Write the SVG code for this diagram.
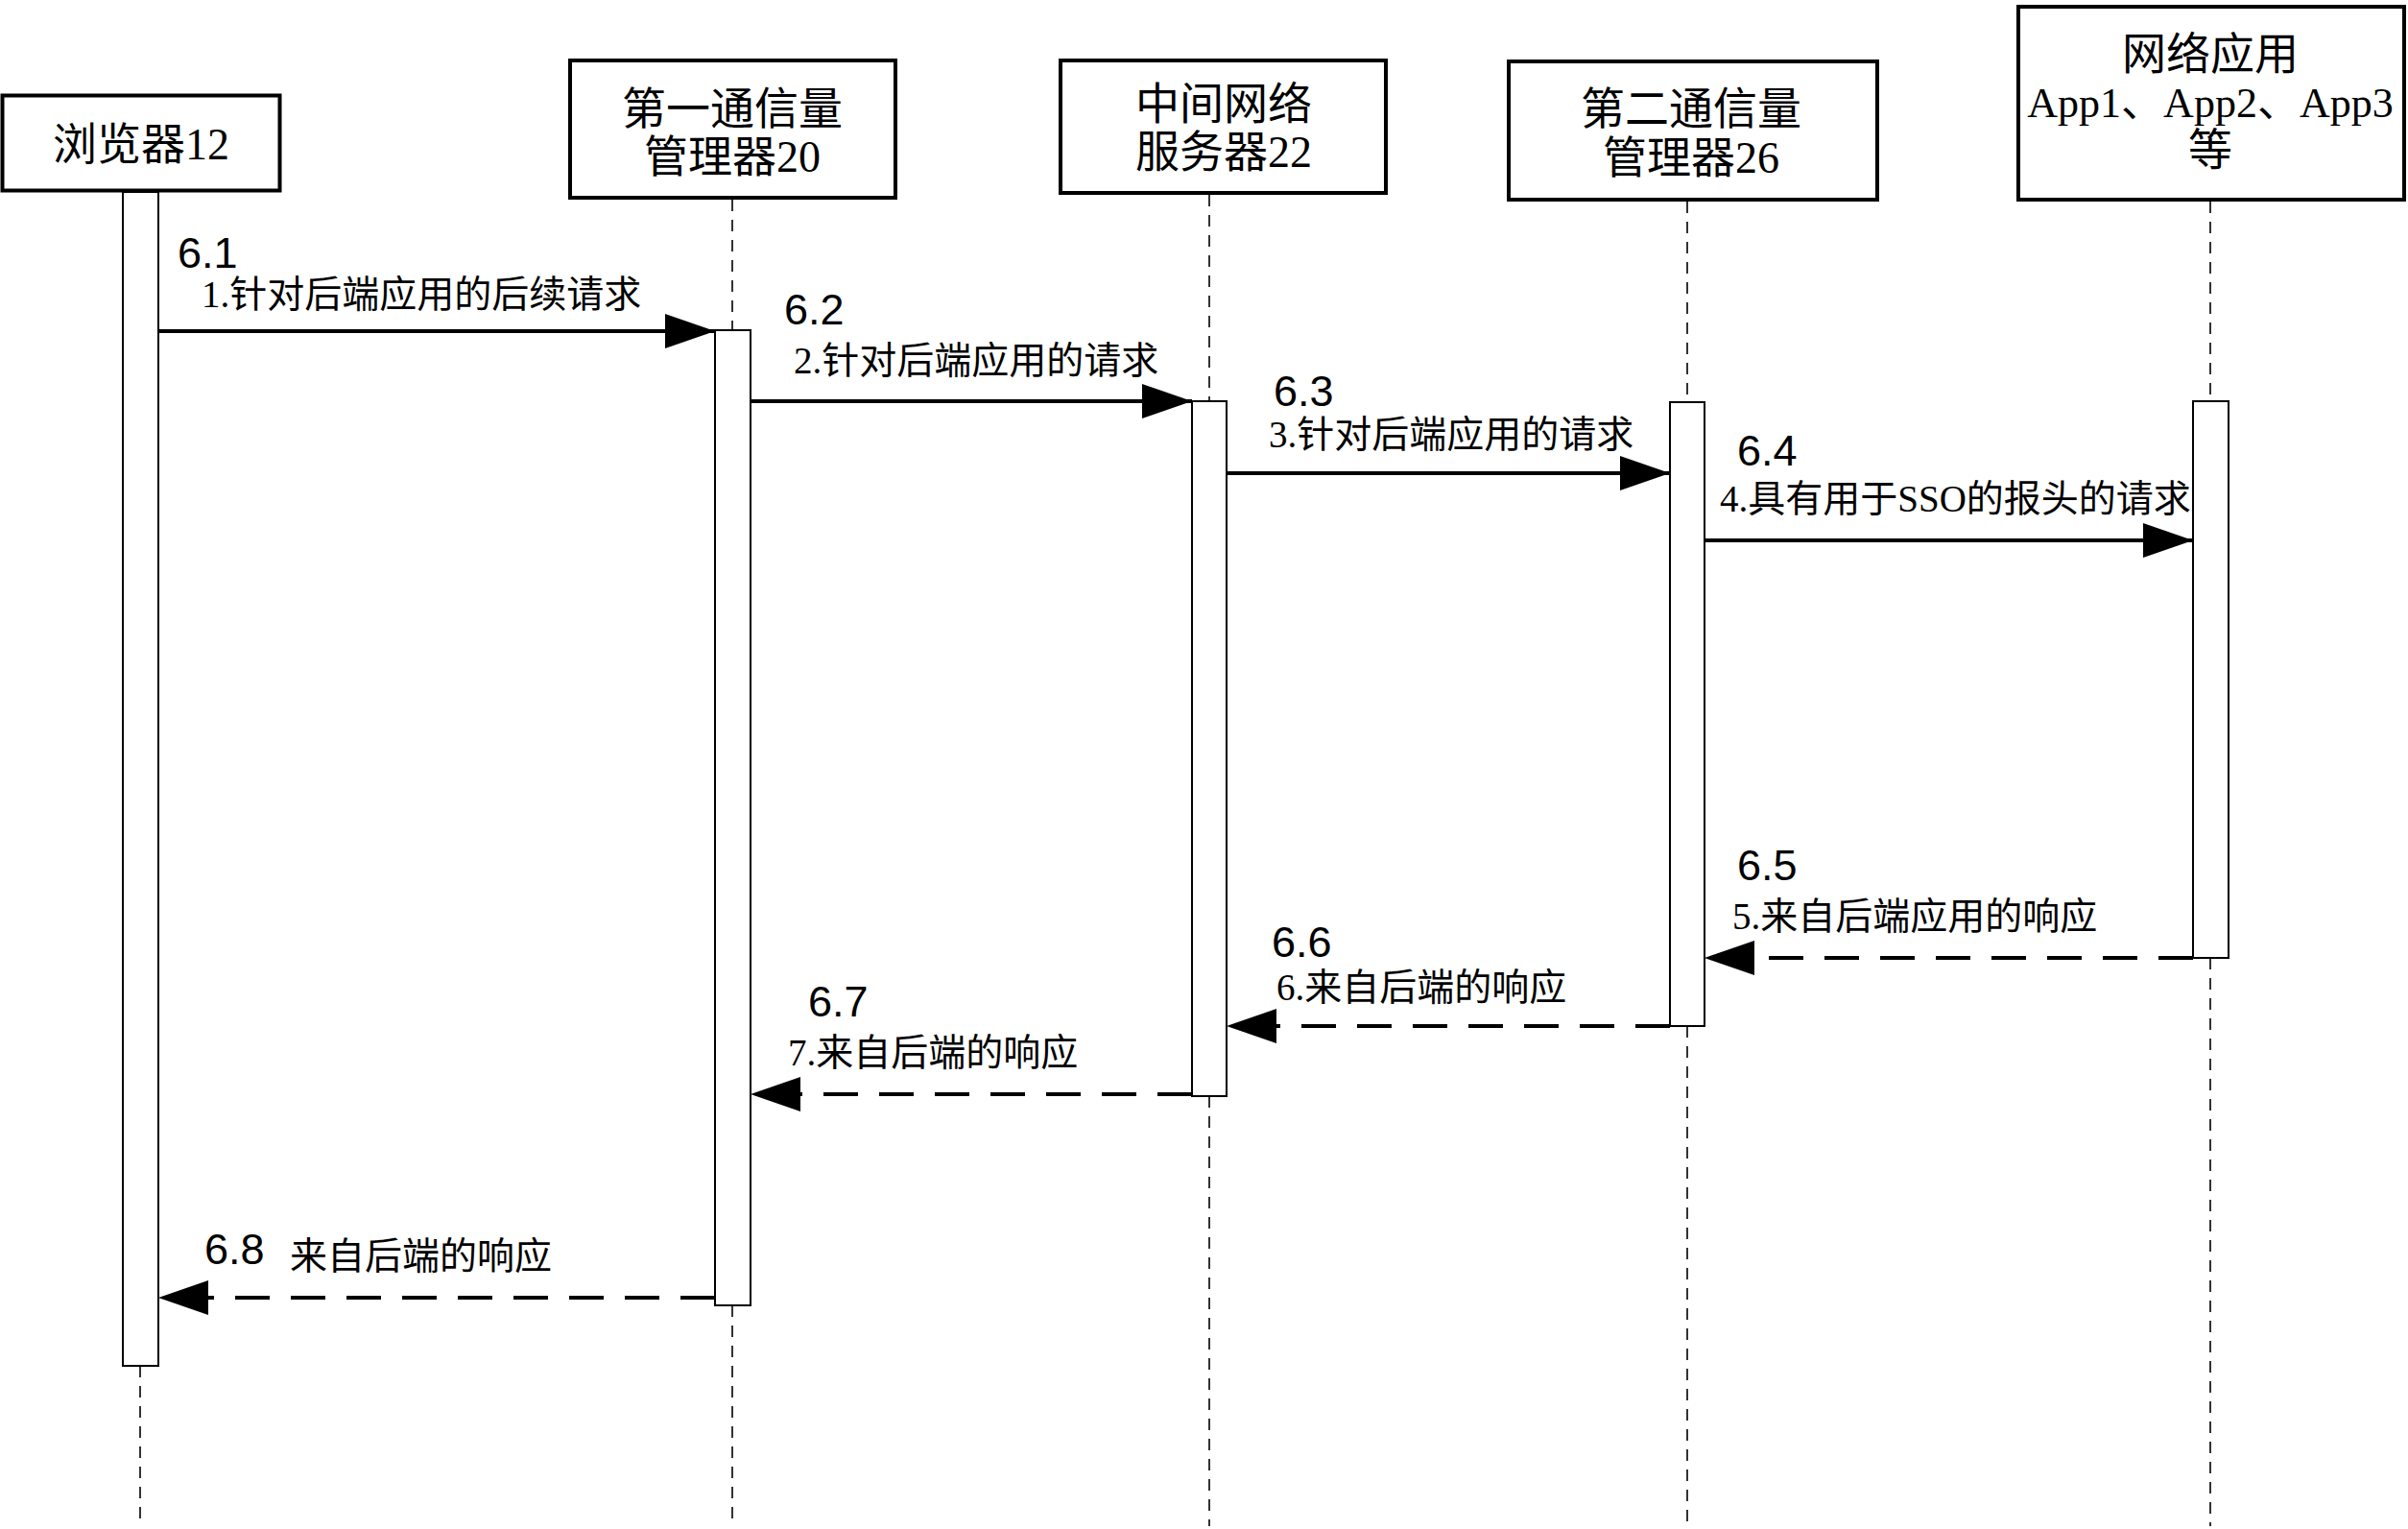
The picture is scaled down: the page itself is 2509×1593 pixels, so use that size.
<svg xmlns="http://www.w3.org/2000/svg" width="2509" height="1593" viewBox="0 0 2509 1593">
<style>
.box{fill:#fff;stroke:#000;stroke-width:4}
.bar{fill:#fff;stroke:#000;stroke-width:2}
.life{stroke:#000;stroke-width:1.6;stroke-dasharray:12 9;fill:none}
.msg{stroke:#000;stroke-width:4;fill:none}
.ret{stroke:#000;stroke-width:4;fill:none;stroke-dasharray:36 22}
.bt{font-family:"Liberation Serif","Noto Sans CJK SC",serif;font-size:46px;text-anchor:middle;fill:#000}
.lt{font-family:"Liberation Serif","Noto Sans CJK SC",serif;font-size:39px;fill:#000}
.num{font-family:"Liberation Sans",Arial,sans-serif;font-size:45px;fill:#000}
</style>
<defs>
<marker id="ah" viewBox="0 0 52 36" refX="52" refY="18" markerWidth="52" markerHeight="36" markerUnits="userSpaceOnUse" orient="auto">
<path d="M0,0 L52,18 L0,36 Z" fill="#000"/>
</marker>
</defs>

<g id="lifelines">
<line class="life" x1="146" y1="1423" x2="146" y2="1590"/>
<line class="life" x1="763" y1="208" x2="763" y2="344"/>
<line class="life" x1="763" y1="1360" x2="763" y2="1590"/>
<line class="life" x1="1260" y1="203" x2="1260" y2="418"/>
<line class="life" x1="1260" y1="1142" x2="1260" y2="1590"/>
<line class="life" x1="1758" y1="210" x2="1758" y2="419"/>
<line class="life" x1="1758" y1="1069" x2="1758" y2="1590"/>
<line class="life" x1="2303" y1="210" x2="2303" y2="418"/>
<line class="life" x1="2303" y1="998" x2="2303" y2="1590"/>
</g>

<g id="browser">
<rect class="box" x="2.5" y="99.5" width="289" height="99"/>
<text class="bt" x="147" y="166">浏览器12</text>
<rect class="bar" x="128" y="200" width="37" height="1223"/>
</g>

<g id="comm-manager-20">
<rect class="box" x="594" y="63" width="339" height="143"/>
<text class="bt" x="763" y="129">第一通信量</text>
<text class="bt" x="763" y="179">管理器20</text>
<rect class="bar" x="745" y="344" width="37" height="1016"/>
</g>

<g id="web-server-22">
<rect class="box" x="1105" y="63" width="339" height="138"/>
<text class="bt" x="1275" y="124">中间网络</text>
<text class="bt" x="1275" y="174">服务器22</text>
<rect class="bar" x="1242" y="418" width="36" height="724"/>
</g>

<g id="comm-manager-26">
<rect class="box" x="1572" y="64" width="384" height="144"/>
<text class="bt" x="1762" y="129">第二通信量</text>
<text class="bt" x="1762" y="180">管理器26</text>
<rect class="bar" x="1740" y="419" width="36" height="650"/>
</g>

<g id="web-apps">
<rect class="box" x="2103" y="7" width="402" height="201"/>
<text class="bt" x="2303" y="72">网络应用</text>
<text class="bt" x="2303" y="122" style="font-size:44px">App1、App2、App3</text>
<text class="bt" x="2303" y="172">等</text>
<rect class="bar" x="2285" y="418" width="37" height="580"/>
</g>

<g id="connectors">
<line class="msg" x1="165" y1="345" x2="745" y2="345" marker-end="url(#ah)"/>
<line class="msg" x1="782" y1="418" x2="1242" y2="418" marker-end="url(#ah)"/>
<line class="msg" x1="1278" y1="493" x2="1740" y2="493" marker-end="url(#ah)"/>
<line class="msg" x1="1776" y1="563" x2="2285" y2="563" marker-end="url(#ah)"/>
<line class="ret" x1="2285" y1="998" x2="1776" y2="998" marker-end="url(#ah)"/>
<line class="ret" x1="1740" y1="1069" x2="1278" y2="1069" marker-end="url(#ah)"/>
<line class="ret" x1="1242" y1="1140" x2="782" y2="1140" marker-end="url(#ah)"/>
<line class="ret" x1="745" y1="1352" x2="165" y2="1352" marker-end="url(#ah)"/>
</g>

<g id="labels">
<text class="num" x="185" y="279">6.1</text>
<text class="lt" x="210" y="320">1.针对后端应用的后续请求</text>
<text class="num" x="817" y="338">6.2</text>
<text class="lt" x="827" y="389">2.针对后端应用的请求</text>
<text class="num" x="1327" y="423">6.3</text>
<text class="lt" x="1322" y="466">3.针对后端应用的请求</text>
<text class="num" x="1810" y="485">6.4</text>
<text class="lt" x="1792" y="533">4.具有用于SSO的报头的请求</text>
<text class="num" x="1810" y="917">6.5</text>
<text class="lt" x="1805" y="968">5.来自后端应用的响应</text>
<text class="num" x="1325" y="997">6.6</text>
<text class="lt" x="1330" y="1042">6.来自后端的响应</text>
<text class="num" x="842" y="1059">6.7</text>
<text class="lt" x="821" y="1110">7.来自后端的响应</text>
<text class="num" x="213" y="1317">6.8</text>
<text class="lt" x="302" y="1322">来自后端的响应</text>
</g>
</svg>
